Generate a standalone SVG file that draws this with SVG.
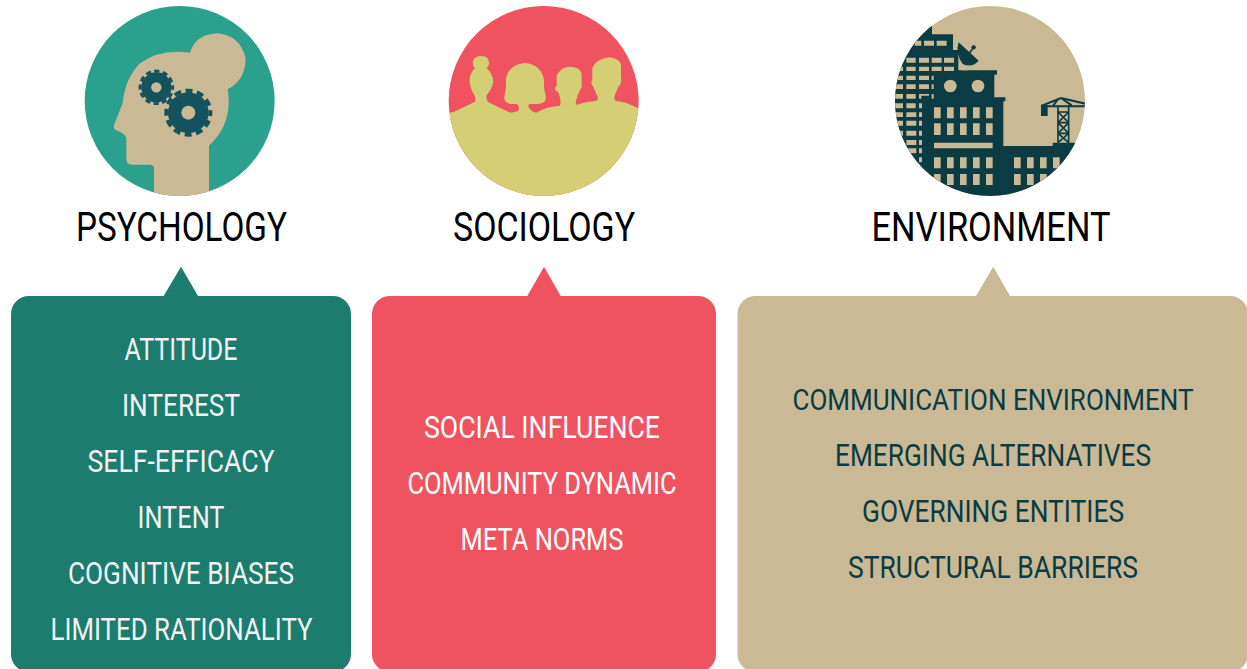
<svg xmlns="http://www.w3.org/2000/svg" width="1247" height="669" viewBox="0 0 1247 669">
<defs>
<style>
text{font-family:"Roboto","Liberation Sans",sans-serif;text-anchor:middle}
.h{font-size:40px;fill:#000}
.i{font-size:30.5px}
.w{fill:#fff}
.o{fill:#f1f3f2}
.d{fill:#0b3b43}
.tan{fill:#c9b994}
.ln{fill:none;stroke:#0b3b43}
</style>
<g id="gear">
<circle r="61" fill="#14525e"/>
<circle r="66" fill="none" stroke="#14525e" stroke-width="12" stroke-dasharray="21 13.558" stroke-dashoffset="10.500"/>
<circle r="21" fill="#c9b994"/>
</g>
<clipPath id="c3"><circle cx="300" cy="303" r="285"/></clipPath>
<clipPath id="c2"><circle cx="296" cy="303" r="285"/></clipPath>
<clipPath id="c1"><circle cx="299" cy="303" r="285"/></clipPath>
</defs>
<rect width="1247" height="669" fill="#fff"/>
<g id="psychology">
<g transform="translate(80,0) scale(.33333)">
<circle cx="299" cy="303" r="285" fill="#2ba08d"/>
<path clip-path="url(#c1)" class="tan" d="M222 600V505Q222 494 210 494H155Q140 494 139 478V415Q135 400 108 390Q98 385 103 372L128 310Q135 235 180 190Q240 145 330 158Q345 105 410 100Q480 105 497 175Q497 240 443 268Q460 370 387 437V600Z"/>
<use href="#gear" transform="translate(229,262) scale(.74)"/>
<use href="#gear" transform="translate(325,338)"/>
</g>
<text class="h" x="181.500" y="241" textLength="211" lengthAdjust="spacingAndGlyphs">PSYCHOLOGY</text>
<path d="M163.300 296.500L181 266.700L198.300 296.500Z" fill="#1c7c6e"/>
<rect x="11" y="296" width="340" height="376" rx="18" fill="#1c7c6e"/>
<g class="o">
<text class="i" x="181" y="360" textLength="113" lengthAdjust="spacingAndGlyphs">ATTITUDE</text>
<text class="i" x="181" y="416" textLength="118" lengthAdjust="spacingAndGlyphs">INTEREST</text>
<text class="i" x="181" y="472" textLength="187" lengthAdjust="spacingAndGlyphs">SELF-EFFICACY</text>
<text class="i" x="181" y="528" textLength="87" lengthAdjust="spacingAndGlyphs">INTENT</text>
<text class="i" x="181" y="584" textLength="226" lengthAdjust="spacingAndGlyphs">COGNITIVE BIASES</text>
<text class="i" x="181.500" y="640" textLength="262" lengthAdjust="spacingAndGlyphs">LIMITED RATIONALITY</text>
</g>
</g>
<g id="sociology">
<g transform="translate(445,0) scale(.33333)">
<circle cx="296" cy="303" r="285" fill="#ef5360"/>
<path clip-path="url(#c2)" fill="#d4ce74" d="M5 340L28 335L90 305Q92 290 88 285Q72 262 74 235Q78 215 90 205Q78 190 88 175Q105 162 125 172Q140 190 125 205Q142 220 145 245Q140 270 125 285Q122 300 130 307L185 333Q195 340 205 337L220 333Q225 315 215 312H195Q178 308 178 292L183 262V235Q190 195 240 188Q290 195 297 240V265L303 290Q303 310 280 312H255Q245 315 255 328Q265 340 278 337L290 330Q310 320 345 317Q350 300 340 277L332 272Q326 262 335 258V225Q350 200 375 200Q405 200 410 222V255Q412 262 405 270Q398 285 392 305L395 315Q420 305 455 302Q462 295 455 285L445 260Q435 250 442 240V205Q448 180 490 172Q525 175 528 195V235Q532 250 520 260L510 285Q505 295 512 303Q545 305 585 328V600H5Z"/>
</g>
<text class="h" x="544" y="241" textLength="182" lengthAdjust="spacingAndGlyphs">SOCIOLOGY</text>
<path d="M527 296.500L544 266.700L561 296.500Z" fill="#ef5360"/>
<rect x="372" y="296" width="344" height="376" rx="18" fill="#ef5360"/>
<g class="w">
<text class="i" x="542" y="438" textLength="236" lengthAdjust="spacingAndGlyphs">SOCIAL INFLUENCE</text>
<text class="i" x="542" y="494" textLength="269" lengthAdjust="spacingAndGlyphs">COMMUNITY DYNAMIC</text>
<text class="i" x="542" y="550" textLength="163" lengthAdjust="spacingAndGlyphs">META NORMS</text>
</g>
</g>
<g id="environment">
<g transform="translate(890,0) scale(.33333)">
<circle cx="300" cy="303" r="285" class="tan"/>
<g clip-path="url(#c3)">
<path class="d" d="M0 0H126V103H189V150H205V211H321V224H313V292H346V304H340V438H560V600H0Z"/>
<path class="tan" d="M213 211L222 193L233 211Z"/>
<path class="d" d="M206 127L266 182Q245 205 218 192Q195 160 206 127Z"/>
<path class="ln" stroke-width="5" d="M230 170L251 142"/>
<circle cx="251" cy="142" r="6.500" class="d"/>
<g class="tan">
<path d="M74 122h20v15h-20zM102 122h30v15h-30zM140 122h30v15h-30z"/>
<path d="M49 173h28v15h-28zM87 173h30v15h-30zM125 173h30v15h-30zM162 173h30v15h-30zM24 200h15v13h-15zM49 200h28v13h-28zM87 200h30v13h-30zM125 200h30v13h-30zM162 200h30v13h-30z"/>
<path d="M19 227h20v13h-20zM49 227h28v13h-28zM87 227h30v13h-30zM125 227h6v13h-6zM17 253h22v14h-22zM49 253h28v14h-28zM87 253h30v14h-30zM125 253h6v14h-6zM15 282h24v14h-24zM49 282h28v14h-28zM87 282h30v5h-30zM87 287h7v9h-7zM125 282h6v14h-6z"/>
<path d="M15 310h24v15h-24zM49 310h28v15h-28zM87 310h9v15h-9zM15 337h24v14h-24zM49 337h30v14h-30zM87 337h9v14h-9zM15 362h24v15h-24zM49 362h30v15h-30zM87 362h9v15h-9zM15 392h24v15h-24zM49 392h30v15h-30zM87 392h9v15h-9zM15 420h24v15h-24zM49 420h30v15h-30zM87 420h9v15h-9zM15 445h24v15h-24zM49 445h30v15h-30zM87 445h9v15h-9zM87 472h9v15h-9z"/>
<circle cx="181" cy="258" r="19"/><circle cx="264" cy="258" r="19"/>
<path d="M132 322h20v33h-20zM171 322h20v33h-20zM210 322h20v33h-20zM249 322h20v33h-20zM288 322h20v33h-20zM132 370h20v35h-20zM171 370h20v35h-20zM210 370h20v35h-20zM249 370h20v35h-20zM288 370h20v35h-20zM132 428h176v17h-176z"/>
<path d="M132 472h20v33h-20zM171 472h20v33h-20zM210 472h20v33h-20zM249 472h20v33h-20zM288 472h20v33h-20zM132 522h20v33h-20zM171 522h20v33h-20zM210 522h20v33h-20zM249 522h20v33h-20zM288 522h20v33h-20zM372 472h20v33h-20zM411 472h20v33h-20zM450 472h20v33h-20zM489 472h20v33h-20zM372 522h20v33h-20zM411 522h20v33h-20zM450 522h20v33h-20zM489 522h20v33h-20z"/>
</g>
<path class="d" d="M453 315h20v33h-20z"/>
<path class="ln" stroke-width="6" d="M453 318L513 294L590 312M453 319H590M513 294L545 316M505 296L490 316"/>
<path class="ln" stroke-width="5" d="M504 316V428M536 316V428M504 336H536M504 368H536M504 400H536M504 336L536 368M536 336L504 368M504 368L536 400M536 368L504 400M504 400L536 428M536 400L504 428"/>
<path class="d" d="M488 428H555V438H488Z"/>
</g>
</g>
<text class="h" x="991" y="241" textLength="239" lengthAdjust="spacingAndGlyphs">ENVIRONMENT</text>
<path d="M975.700 296.500L993.300 266.700L1010.300 296.500Z" class="tan"/>
<rect x="737.500" y="296" width="510.500" height="376" rx="18" class="tan"/>
<g class="d">
<text class="i" x="993" y="410" style="font-size:29.500px" textLength="401" lengthAdjust="spacingAndGlyphs">COMMUNICATION ENVIRONMENT</text>
<text class="i" x="993" y="466" textLength="316" lengthAdjust="spacingAndGlyphs">EMERGING ALTERNATIVES</text>
<text class="i" x="993" y="522" textLength="262" lengthAdjust="spacingAndGlyphs">GOVERNING ENTITIES</text>
<text class="i" x="993" y="578" textLength="290" lengthAdjust="spacingAndGlyphs">STRUCTURAL BARRIERS</text>
</g>
</g>
<g id="connectors"/>
</svg>
